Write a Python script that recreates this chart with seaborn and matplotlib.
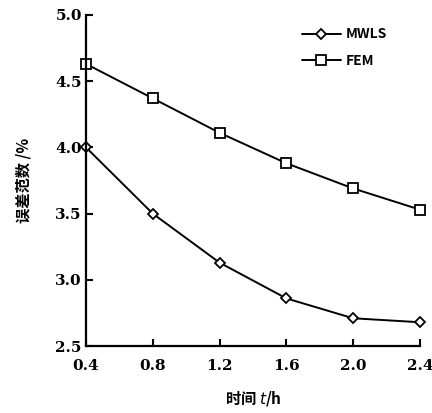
import numpy as np
import pandas as pd
import matplotlib
matplotlib.use("Agg")
import matplotlib.pyplot as plt
import seaborn as sns

# data
time_h = [0.4, 0.8, 1.2, 1.6, 2.0, 2.4]
mwls = [4.00, 3.50, 3.13, 2.86, 2.71, 2.68]
fem = [4.63, 4.37, 4.11, 3.88, 3.69, 3.53]
x_ticks = [0.4, 0.8, 1.2, 1.6, 2.0, 2.4]
y_ticks = [2.5, 3.0, 3.5, 4.0, 4.5, 5.0]

sns.set_theme(style="ticks")
plt.rcParams['font.family'] = ['Noto Sans CJK SC', 'DejaVu Sans']
plt.rcParams['text.color'] = "black"
plt.rcParams['axes.labelcolor'] = "black"

fig = plt.figure(figsize=(4.32, 4.13), dpi=100)
ax = fig.add_axes([0.199, 0.162, 0.773, 0.802])

sns.lineplot(x=time_h, y=mwls, ax=ax, color="black", lw=1.4,
             marker="D", markersize=5.5, markerfacecolor="white",
             markeredgecolor="black", markeredgewidth=1.3,
             label="MWLS", clip_on=False)
sns.lineplot(x=time_h, y=fem, ax=ax, color="black", lw=1.4,
             marker="s", markersize=7, markerfacecolor="white",
             markeredgecolor="black", markeredgewidth=1.3,
             label="FEM", clip_on=False)

ax.set_xlim(0.4, 2.4)
ax.set_ylim(2.5, 5.0)
ax.set_xticks(x_ticks)
ax.set_yticks(y_ticks)
ax.set_xticklabels([f"{v:.1f}" for v in x_ticks], fontsize=11,
                   fontweight="bold", family="DejaVu Serif")
ax.set_yticklabels([f"{v:.1f}" for v in y_ticks], fontsize=11,
                   fontweight="bold", family="DejaVu Serif")
ax.tick_params(direction="in", length=5, width=1.5, colors="black",
               labelcolor="black", pad=3)
ax.tick_params(axis="x", pad=9)

for side in ["top", "right"]:
    ax.spines[side].set_visible(False)
for side in ["left", "bottom"]:
    ax.spines[side].set_linewidth(1.6)
    ax.spines[side].set_color("black")

ax.set_xlabel("时间 $t$/h", fontsize=11, fontweight="bold", labelpad=12)
ax.set_ylabel("误差范数 /%", fontsize=11, fontweight="bold", labelpad=17)

leg = ax.legend(loc="upper right", bbox_to_anchor=(0.94, 1.0), frameon=False,
                handlelength=2.8, handletextpad=0.4, fontsize=10,
                labelspacing=0.9)
for t in leg.get_texts():
    t.set_fontweight("bold")
    t.set_color("black")

fig.savefig("out.png", dpi=100)
